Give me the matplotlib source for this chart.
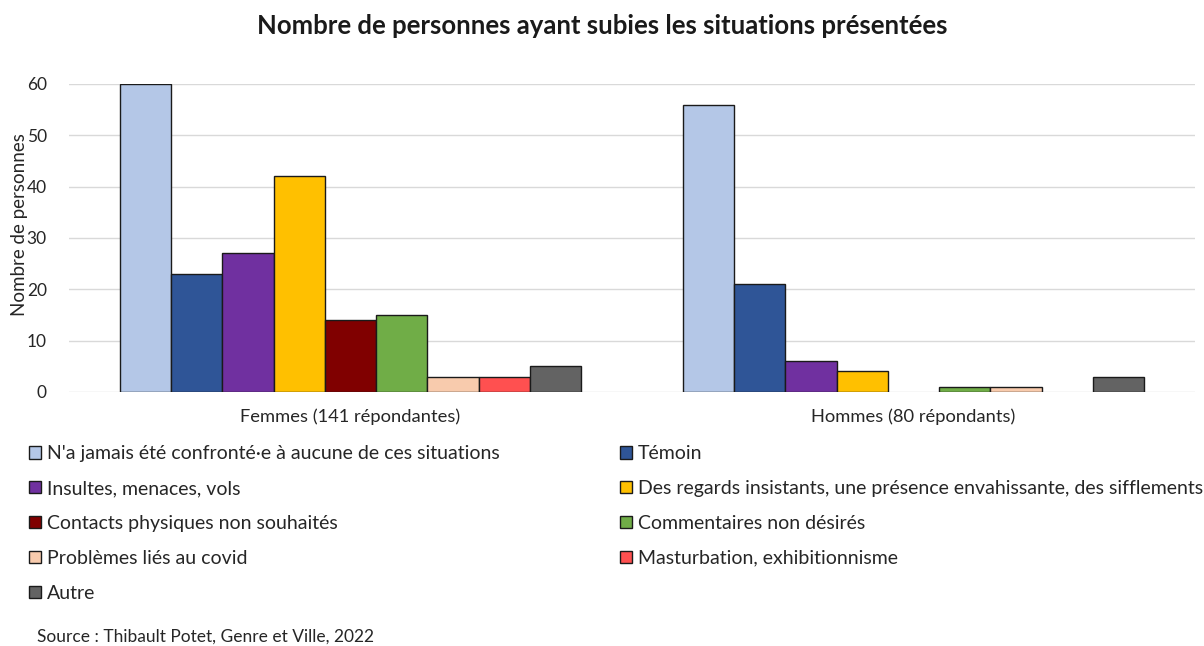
import matplotlib.pyplot as plt
import numpy as np

# Survey counts per situation, women vs men
groupes = ["Femmes (141 répondantes)", "Hommes (80 répondants)"]
situations = [
    "N'a jamais été confronté·e à aucune de ces situations",
    "Témoin",
    "Insultes, menaces, vols",
    "Des regards insistants, une présence envahissante, des sifflements",
    "Contacts physiques non souhaités",
    "Commentaires non désirés",
    "Problèmes liés au covid",
    "Masturbation, exhibitionnisme",
    "Autre",
]
femmes = [60, 23, 27, 42, 14, 15, 3, 3, 5]
hommes = [56, 21, 6, 4, 0, 1, 1, 0, 3]
couleurs = ["#B4C7E7", "#2F5597", "#7030A0", "#FFC000", "#800000",
            "#70AD47", "#F8CBAD", "#FF5050", "#636363"]

plt.rcParams['font.family'] = ['Lato', 'DejaVu Sans']

fig = plt.figure(figsize=(12.04, 6.46), dpi=100)
ax = fig.add_axes([0.0573, 0.3932, 0.9352, 0.4768])

x = np.arange(len(groupes))
n = len(situations)
largeur = 0.819 / n
handles = []
for i, nom in enumerate(situations):
    vals = [femmes[i], hommes[i]]
    pos = x - 0.819 / 2 + largeur * (i + 0.5)
    bars = ax.bar(pos, vals, largeur, color=couleurs[i], edgecolor='#1a1a1a',
                  linewidth=1, label=nom, zorder=3)
    for b in bars:
        if b.get_height() == 0:
            b.set_linewidth(0)
    handles.append(bars)

ax.set_xlim(-0.5, 1.5)
ax.set_ylim(0, 60)
ax.set_yticks(range(0, 61, 10))
ax.set_xticks(x)
ax.set_xticklabels(groupes, fontsize=13.2, color='#262626')
ax.tick_params(axis='x', length=0, pad=12)
ax.tick_params(axis='y', length=0, pad=16, labelsize=12.5, labelcolor='#262626')
ax.grid(axis='y', color='#d9d9d9', linewidth=1, zorder=0)
for s in ax.spines.values():
    s.set_visible(False)
ax.set_ylabel("Nombre de personnes", fontsize=13.5, color='#262626')
ax.yaxis.set_label_coords(-0.036, 0.542)

fig.suptitle("Nombre de personnes ayant subies les situations présentées",
             fontsize=18.5, fontweight='bold', y=0.978, color='#1a1a1a')

# two legend columns laid out row by row
gauche = [0, 2, 4, 6, 8]
droite = [1, 3, 5, 7]
opts = dict(frameon=False, fontsize=14, handlelength=0.62, handleheight=0.62,
            handletextpad=0.3, labelspacing=0.92, labelcolor='#262626',
            borderaxespad=0, borderpad=0)
leg1 = fig.legend([handles[i] for i in gauche], [situations[i] for i in gauche],
                  loc='upper left', bbox_to_anchor=(0.024, 0.311), **opts)
leg2 = fig.legend([handles[i] for i in droite], [situations[i] for i in droite],
                  loc='upper left', bbox_to_anchor=(0.515, 0.311), **opts)
for leg in (leg1, leg2):
    for p in leg.get_patches():
        p.set_edgecolor('#1a1a1a')
        p.set_linewidth(1)

fig.text(0.031, 0.007, "Source : Thibault Potet, Genre et Ville, 2022",
         fontsize=12.5, color='#262626')

fig.savefig("out.png", dpi=100)
